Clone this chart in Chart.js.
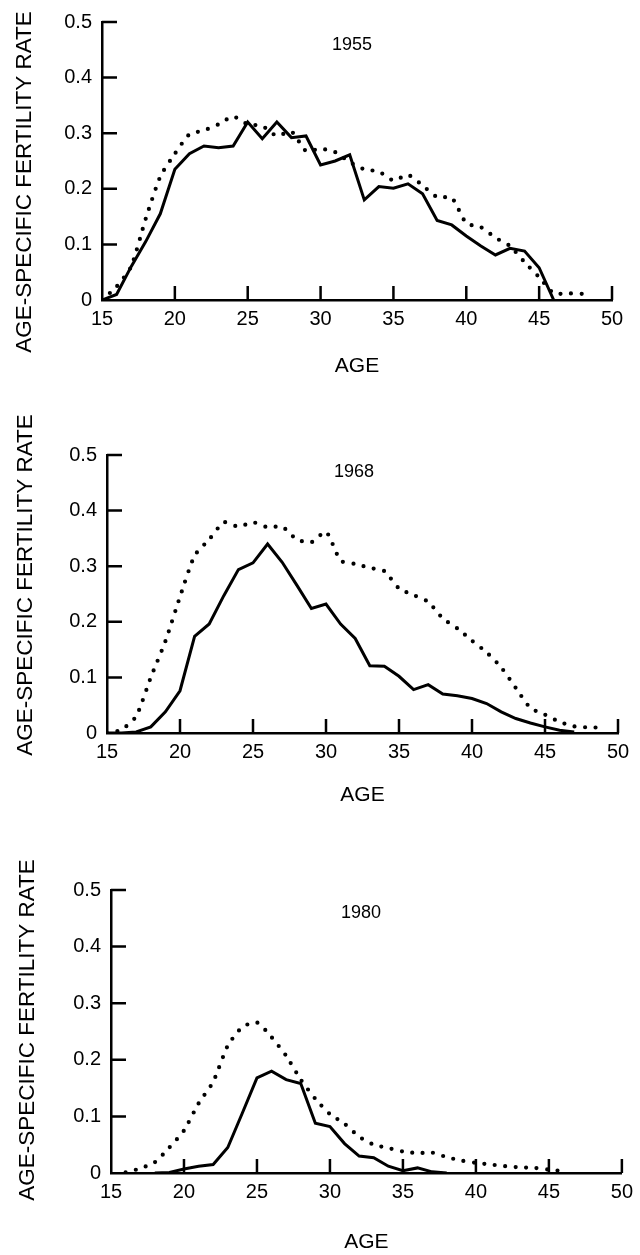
<!DOCTYPE html>
<html>
<head>
<meta charset="utf-8">
<title>Age-specific fertility rates</title>
<script src="https://cdn.jsdelivr.net/npm/chart.js@4.4.1/dist/chart.umd.min.js"></script>
<style>
  body { margin: 0; background: #fff; }
  .panel { position: absolute; left: 0; width: 640px; }
</style>
</head>
<body>
<div class="panel" style="top:0;height:395px"><canvas id="p1955"></canvas></div>
<div class="panel" style="top:400px;height:420px"><canvas id="p1968"></canvas></div>
<div class="panel" style="top:830px;height:425px"><canvas id="p1980"></canvas></div>
<script>
// single years of age, 15 to 49
const ages = [15, 16, 17, 18, 19, 20, 21, 22, 23, 24, 25, 26, 27, 28, 29, 30, 31, 32,
  33, 34, 35, 36, 37, 38, 39, 40, 41, 42, 43, 44, 45, 46, 47, 48, 49];

// solid curves
const solid1955 = [0, 0.01, 0.06, 0.105, 0.155, 0.235, 0.263, 0.277, 0.274, 0.277, 0.32, 0.29,
  0.32, 0.292, 0.295, 0.243, 0.25, 0.261, 0.18, 0.204, 0.201, 0.209, 0.191, 0.143, 0.135,
  0.115, 0.097, 0.081, 0.093, 0.088, 0.058, 0, null, null, null];
const solid1968 = [0, 0, 0.002, 0.011, 0.038, 0.076, 0.174, 0.196, 0.247, 0.294, 0.306, 0.34,
  0.307, 0.266, 0.224, 0.232, 0.196, 0.17, 0.121, 0.12, 0.102, 0.078, 0.087, 0.07, 0.067,
  0.062, 0.053, 0.038, 0.026, 0.018, 0.011, 0.005, 0.002, null, null];
const solid1980 = [null, null, null, 0, 0.001, 0.007, 0.012, 0.015, 0.045, 0.106, 0.168, 0.18,
  0.165, 0.158, 0.088, 0.082, 0.052, 0.03, 0.027, 0.012, 0.004, 0.009, 0.002, 0, null,
  null, null, null, null, null, null, null, null, null, null];

// dotted curves
const dotted1955 = [0, 0.024, 0.06, 0.146, 0.222, 0.263, 0.298, 0.305, 0.316, 0.33, 0.316, 0.313,
  0.295, 0.303, 0.268, 0.272, 0.266, 0.248, 0.235, 0.231, 0.215, 0.225, 0.206, 0.185, 0.184,
  0.138, 0.131, 0.112, 0.097, 0.068, 0.041, 0.012, 0.012, 0.011, null];
const dotted1968 = [0, 0.006, 0.03, 0.1, 0.165, 0.245, 0.319, 0.348, 0.379, 0.371, 0.379, 0.37,
  0.371, 0.348, 0.343, 0.362, 0.31, 0.304, 0.297, 0.291, 0.26, 0.248, 0.236, 0.206, 0.188,
  0.166, 0.145, 0.118, 0.081, 0.045, 0.033, 0.02, 0.012, 0.01, 0.01];
const dotted1980 = [null, 0.001, 0.008, 0.019, 0.045, 0.075, 0.123, 0.161, 0.225, 0.258, 0.266,
  0.24, 0.207, 0.165, 0.131, 0.104, 0.087, 0.064, 0.05, 0.044, 0.038, 0.035, 0.036, 0.028,
  0.022, 0.018, 0.015, 0.012, 0.01, 0.009, 0.006, 0.003, null, null, null];

const yTicks = [0, 0.1, 0.2, 0.3, 0.4, 0.5];
const xTicks = [15, 20, 25, 30, 35, 40, 45, 50];

Chart.defaults.font.family = "'Liberation Sans', Arial, sans-serif";
Chart.defaults.color = '#000';

// tick marks point into the plot, like the printed figure
const innerTicks = {
  id: 'innerTicks',
  afterDraw(chart) {
    const {ctx, chartArea: a, scales: {x, y}} = chart;
    ctx.save();
    ctx.strokeStyle = '#000';
    ctx.lineWidth = 2.5;
    ctx.beginPath();
    yTicks.forEach(v => {
      if (v === 0) return;
      const py = y.getPixelForValue(v);
      ctx.moveTo(a.left, py);
      ctx.lineTo(a.left + 15, py);
    });
    xTicks.forEach(v => {
      if (v === 15) return;
      const px = x.getPixelForValue(v);
      ctx.moveTo(px, a.bottom);
      ctx.lineTo(px, a.bottom - 14);
    });
    ctx.stroke();
    ctx.restore();
  }
};

// year label inside the plot and the rotated rate title on the left
const panelText = {
  id: 'panelText',
  afterDraw(chart, args, opts) {
    const {ctx} = chart;
    ctx.save();
    ctx.fillStyle = '#000';
    ctx.textAlign = 'center';
    ctx.textBaseline = 'middle';
    ctx.font = "18px 'Liberation Sans', Arial, sans-serif";
    ctx.fillText(opts.year, opts.yearX, opts.yearY);
    ctx.translate(opts.titleX, opts.titleY);
    ctx.rotate(-Math.PI / 2);
    ctx.font = "22.5px 'Liberation Sans', Arial, sans-serif";
    ctx.fillText('AGE-SPECIFIC FERTILITY RATE', 0, 0);
    ctx.restore();
  }
};

function makePanel(id, year, solid, dotted, g) {
  const canvas = document.getElementById(id);
  const H = canvas.parentNode.clientHeight;
  return new Chart(canvas, {
    type: 'line',
    data: {
      datasets: [{
        data: ages.map((a, i) => ({x: a, y: solid[i]})),
        borderColor: '#000',
        borderWidth: 3,
        pointRadius: 0,
        tension: 0
      }, {
        data: ages.map((a, i) => ({x: a, y: dotted[i]})),
        borderColor: '#000',
        borderWidth: 4.2,
        borderDash: [0, 10.5],
        borderCapStyle: 'round',
        pointRadius: 0,
        tension: 0.2
      }]
    },
    options: {
      responsive: true,
      maintainAspectRatio: false,
      animation: false,
      layout: {padding: {left: 0, top: g.top, right: 640 - g.right, bottom: 0}},
      plugins: {
        legend: {display: false},
        tooltip: {enabled: false},
        panelText: {year: year, yearX: g.yearX, yearY: g.yearY, titleX: g.titleX, titleY: g.titleY}
      },
      scales: {
        x: {
          type: 'linear',
          min: 15,
          max: 50,
          afterFit: s => { s.height = H - g.bottom; },
          afterBuildTicks: s => { s.ticks = xTicks.map(v => ({value: v})); },
          grid: {display: false, drawTicks: false},
          border: {display: true, color: '#000', width: 2.5},
          ticks: {autoSkip: false, maxRotation: 0, padding: 7, font: {size: 20}},
          title: {
            display: true,
            text: 'AGE',
            font: {size: 21},
            padding: {top: 0, bottom: H - g.ageY - 12.6}
          }
        },
        y: {
          min: 0,
          max: 0.5,
          afterFit: s => { s.width = g.left; },
          afterBuildTicks: s => { s.ticks = yTicks.map(v => ({value: v})); },
          grid: {display: false, drawTicks: false},
          border: {display: true, color: '#000', width: 2.5},
          ticks: {
            padding: 10,
            font: {size: 20},
            callback: v => v === 0 ? '0' : v.toFixed(1)
          }
        }
      }
    },
    plugins: [innerTicks, panelText]
  });
}

makePanel('p1955', '1955', solid1955, dotted1955,
  {left: 102, top: 14, right: 612, bottom: 300, ageY: 366, yearX: 352, yearY: 45, titleX: 25, titleY: 182});
makePanel('p1968', '1968', solid1968, dotted1968,
  {left: 107, top: 55, right: 618, bottom: 333, ageY: 395, yearX: 354, yearY: 72, titleX: 26, titleY: 185});
makePanel('p1980', '1980', solid1980, dotted1980,
  {left: 111, top: 60, right: 623, bottom: 343, ageY: 412, yearX: 361, yearY: 83, titleX: 28, titleY: 200});
</script>
</body>
</html>
